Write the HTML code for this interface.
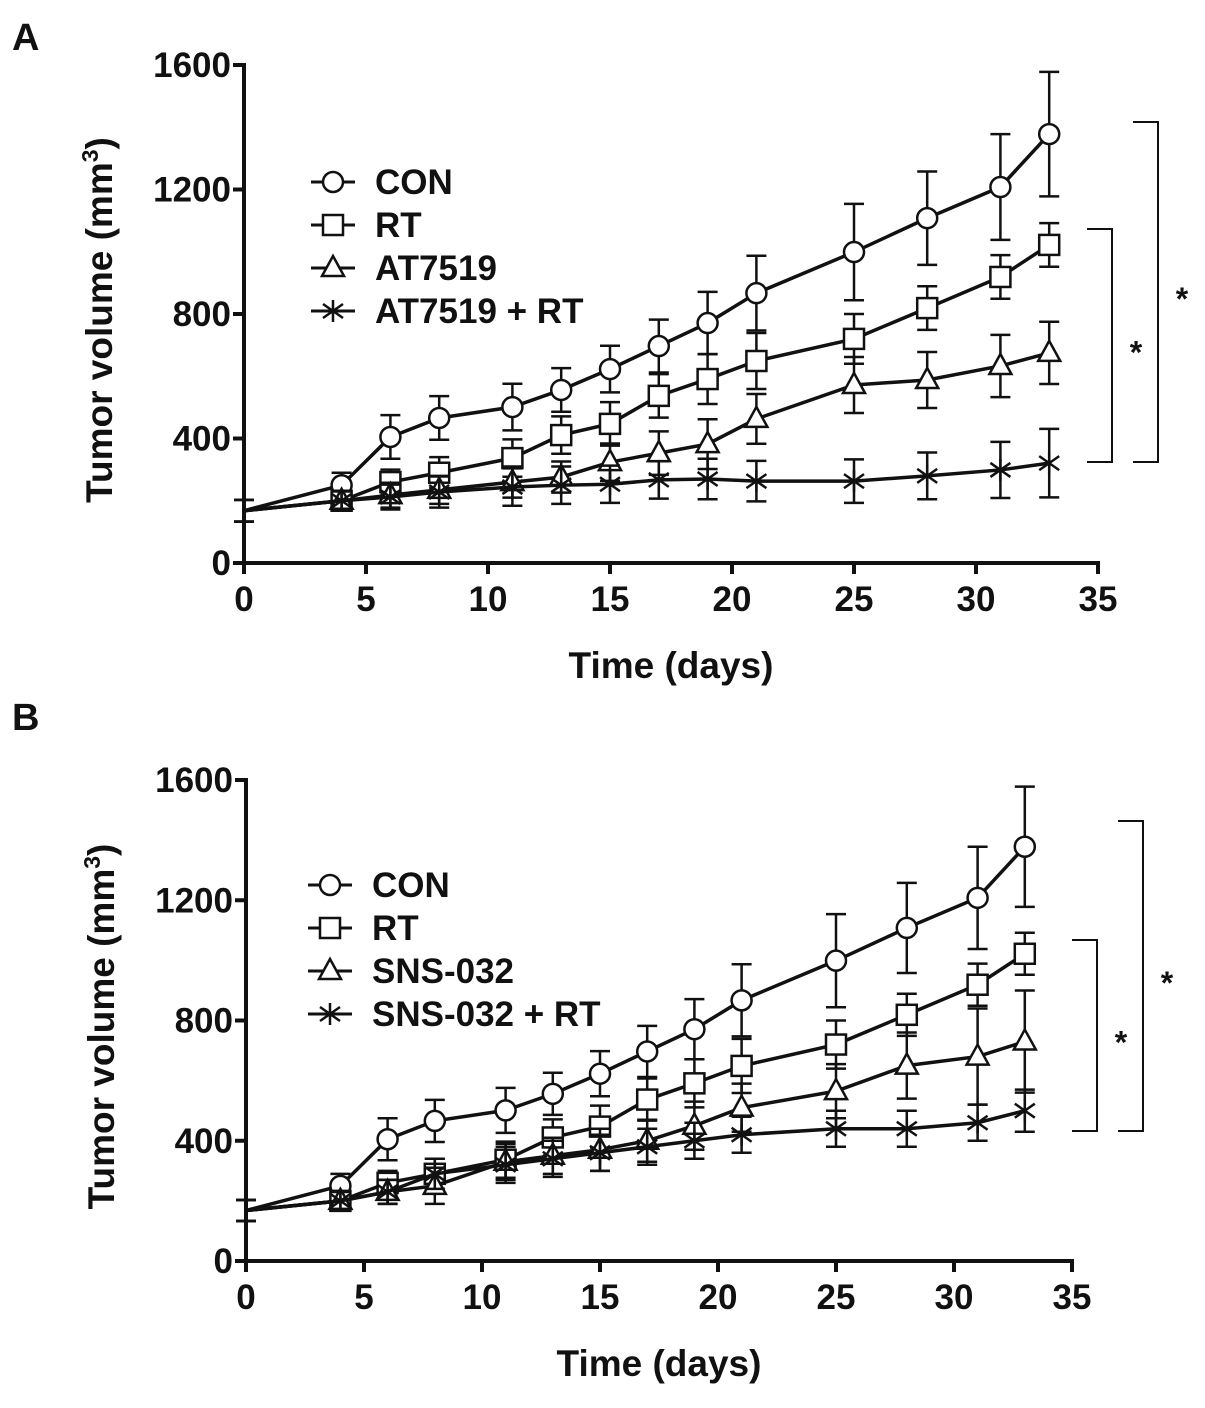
<!DOCTYPE html>
<html><head><meta charset="utf-8"><style>
html,body{margin:0;padding:0;background:#fff;}
svg text{font-family:"Liberation Sans",Arial,sans-serif;font-weight:bold;fill:#111;}
</style></head><body>
<svg id="svg" width="1205" height="1403" viewBox="0 0 1205 1403" xmlns="http://www.w3.org/2000/svg"></svg>
<script>
const days=[0,4,6,8,11,13,15,17,19,21,25,28,31,33];
const conA=[168,250,405,466,501,556,623,697,771,867,999,1108,1208,1378];
const conAerr=[35,40,70,70,75,70,75,85,100,120,155,150,170,200];
const rtA=[168,200,260,290,337,411,447,537,591,649,720,819,919,1022];
const rtAerr=[35,30,40,50,60,60,70,70,80,90,80,70,70,70];
const atA=[168,200,218,235,260,276,324,353,382,463,572,588,633,675];
const atAerr=[35,30,40,45,50,50,60,70,80,80,90,90,100,100];
const comboA=[168,200,212,228,244,250,253,267,270,263,263,280,299,321];
const comboAerr=[35,30,40,50,60,60,60,60,65,65,70,75,90,110];
const conB=conA, conBerr=conAerr, rtB=rtA, rtBerr=rtAerr;
const snsB=[168,200,230,250,330,350,370,400,450,510,565,650,680,730];
const snsBerr=[35,30,40,60,60,60,70,70,80,80,90,110,160,170];
const comboB=[168,200,230,290,320,340,360,380,400,420,440,440,460,500];
const comboBerr=[35,30,40,50,60,60,60,60,60,60,60,60,60,70];
const xTicks=[0,5,10,15,20,25,30,35];
const yTicks=[0,400,800,1200,1600];

const svg=document.getElementById('svg');
const NS='http://www.w3.org/2000/svg';
function el(tag,attrs,parent){const e=document.createElementNS(NS,tag);for(const k in attrs)e.setAttribute(k,attrs[k]);(parent||svg).appendChild(e);return e;}

function panel(p){
  const g=el('g',{});
  
  
  const X=d=>p.x0+(p.x1-p.x0)*d/35;
  const Y=v=>p.y0-(p.y0-p.y1)*v/1600;
  const lbl=el('text',{x:p.lx,y:p.ly,'font-size':38},g);lbl.textContent=p.id;
  
  const ax=el('g',{stroke:'#111','stroke-width':4,fill:'none'},g);
  
  el('line',{x1:X(0)-2,y1:Y(0),x2:X(35)+2,y2:Y(0)},ax);
  el('line',{x1:X(0),y1:Y(0)+2,x2:X(0),y2:Y(1600)-2},ax);
  xTicks.forEach(t=>{el('line',{x1:X(t),y1:Y(0),x2:X(t),y2:Y(0)+11},ax);
    const tx=el('text',{x:X(t),y:Y(0)+48,'font-size':35,'text-anchor':'middle'},g);tx.textContent=t;
    });
  yTicks.forEach(t=>{el('line',{x1:X(0)-11,y1:Y(t),x2:X(0),y2:Y(t)},ax);
    const tx=el('text',{x:X(0)-13,y:Y(t)+12,'font-size':35,'text-anchor':'end'},g);tx.textContent=t;
    });
  const xt=el('text',{x:(X(0)+X(35))/2,y:p.y0+115,'font-size':37,'text-anchor':'middle'},g);xt.textContent='Time (days)';
  
  const yt=el('text',{x:0,y:0,'font-size':37,'text-anchor':'middle',transform:`translate(${p.x0-132},${(Y(0)+Y(1600))/2+6}) rotate(-90)`},g);
  yt.innerHTML='Tumor volume (mm<tspan font-size="23" dy="-14">3</tspan><tspan dy="14">)</tspan>';
  
  function marker(type,cx,cy,par){
    const a={stroke:'#111','stroke-width':2.5,fill:'#fff'};
    if(type==='circle')return el('circle',Object.assign({cx,cy,r:10},a),par);
    if(type==='square')return el('rect',Object.assign({x:cx-10,y:cy-10,width:20,height:20},a),par);
    if(type==='tri')return el('polygon',Object.assign({points:`${cx},${cy-12} ${cx+11},${cy+8} ${cx-11},${cy+8}`},a),par);
    return el('path',Object.assign({d:`M${cx-10} ${cy-7}L${cx+10} ${cy+7}M${cx-10} ${cy+7}L${cx+10} ${cy-7}M${cx} ${cy-11}L${cx} ${cy+11}`},a),par);
  }
  p.series.forEach(s=>{
    const sg=el('g',{},g);
    
    days.forEach((d,i)=>{const x=X(d),t=Y(s.v[i]+s.e[i]),b=Y(Math.max(0,s.v[i]-s.e[i]));
      el('path',{d:`M${x} ${t}V${b}M${x-10} ${t}H${x+10}M${x-10} ${b}H${x+10}`,stroke:'#111','stroke-width':2.5,fill:'none'},sg);});
    el('polyline',{points:days.map((d,i)=>X(d)+','+Y(s.v[i])).join(' '),stroke:'#111','stroke-width':3.5,fill:'none'},sg);
    days.forEach((d,i)=>{if(d>0){marker(s.m,X(d),Y(s.v[i]),sg);}});
  });
  p.series.forEach((s,i)=>{
    const ly=p.legY+i*p.legDy;
    const lg=el('g',{},g);
    el('line',{x1:p.legX-22,y1:ly,x2:p.legX+22,y2:ly,stroke:'#111','stroke-width':3},lg);
    marker(s.m,p.legX,ly,lg);
    const t=el('text',{x:p.legX+42,y:ly+12,'font-size':35},lg);t.textContent=s.name;
  });
  p.brackets.forEach(b=>{
    const bg=el('g',{},g);
    el('path',{d:`M${b.x-25} ${b.t}H${b.x}V${b.b}H${b.x-25}`,stroke:'#111','stroke-width':2,fill:'none'},bg);
    const t=el('text',{x:b.x+24,y:(b.t+b.b)/2+18,'font-size':32,'text-anchor':'middle'},bg);t.textContent='*';
  });
}
panel({id:'A',lx:12,ly:50,x0:244,x1:1098,y0:563,y1:65,legX:333,legY:182,legDy:43,
  series:[{key:'con',name:'CON',m:'circle',v:conA,e:conAerr},{key:'rt',name:'RT',m:'square',v:rtA,e:rtAerr},
    {key:'at7519',name:'AT7519',m:'tri',v:atA,e:atAerr},{key:'at7519-rt',name:'AT7519 + RT',m:'star',v:comboA,e:comboAerr}],
  brackets:[{x:1112,t:229,b:462},{x:1158,t:122,b:462}]});
panel({id:'B',lx:12,ly:730,x0:246,x1:1072,y0:1261,y1:780,legX:330,legY:885,legDy:43,
  series:[{key:'con',name:'CON',m:'circle',v:conB,e:conBerr},{key:'rt',name:'RT',m:'square',v:rtB,e:rtBerr},
    {key:'sns032',name:'SNS-032',m:'tri',v:snsB,e:snsBerr},{key:'sns032-rt',name:'SNS-032 + RT',m:'star',v:comboB,e:comboBerr}],
  brackets:[{x:1097,t:940,b:1131},{x:1143,t:821,b:1131}]});
</script>
</body></html>
